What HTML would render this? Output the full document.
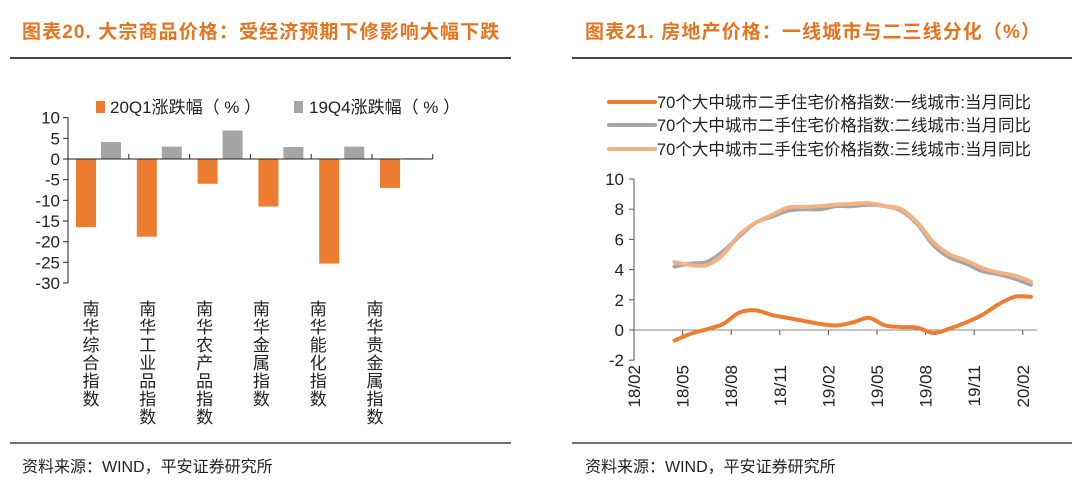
<!DOCTYPE html>
<html><head><meta charset="utf-8"><style>
body{margin:0;background:#fff;}
svg text{font-family:"Liberation Sans","Noto Sans CJK SC",sans-serif;}
</style></head><body>
<svg id="root" width="1080" height="493" viewBox="0 0 1080 493" xmlns="http://www.w3.org/2000/svg">
<text x="22" y="38" font-size="19" font-weight="bold" fill="#E8731E" letter-spacing="1.1">图表20.  大宗商品价格：受经济预期下修影响大幅下跌</text>
<text x="585" y="38" font-size="19" font-weight="bold" fill="#E8731E" letter-spacing="1.1">图表21.  房地产价格：一线城市与二三线分化（%）</text>
<line x1="10" y1="58" x2="511" y2="58" stroke="#444" stroke-width="2"/>
<line x1="572" y1="58" x2="1072" y2="58" stroke="#444" stroke-width="2"/>
<line x1="10" y1="443" x2="511" y2="443" stroke="#444" stroke-width="1.5"/>
<line x1="572" y1="443" x2="1072" y2="443" stroke="#444" stroke-width="1.5"/>
<text x="22" y="472" font-size="16" fill="#222">资料来源：WIND，平安证券研究所</text>
<text x="585" y="472" font-size="16" fill="#222">资料来源：WIND，平安证券研究所</text>

<rect x="96" y="101" width="9" height="12" fill="#ED7D31"/>
<text x="110" y="113" font-size="17" fill="#222" xml:space="preserve">20Q1涨跌幅（ % ）</text>
<rect x="294" y="101" width="9" height="12" fill="#A5A5A5"/>
<text x="309" y="113" font-size="17" fill="#222" xml:space="preserve">19Q4涨跌幅（ % ）</text>
<g id="left"></g>

<line x1="609" y1="102" x2="655" y2="102" stroke="#ED7D31" stroke-width="4" stroke-linecap="round"/>
<text x="657" y="108" font-size="16.5" fill="#222">70个大中城市二手住宅价格指数:一线城市:当月同比</text>
<line x1="609" y1="125" x2="655" y2="125" stroke="#A5A5A5" stroke-width="4" stroke-linecap="round"/>
<text x="657" y="131" font-size="16.5" fill="#222">70个大中城市二手住宅价格指数:二线城市:当月同比</text>
<line x1="609" y1="149" x2="655" y2="149" stroke="#F4B183" stroke-width="4" stroke-linecap="round"/>
<text x="657" y="155" font-size="16.5" fill="#222">70个大中城市二手住宅价格指数:三线城市:当月同比</text>
<g id="right"></g>
</svg>
<script>
const categories=["南华综合指数","南华工业品指数","南华农产品指数","南华金属指数","南华能化指数","南华贵金属指数"];
const q1Values=[-16.5,-18.8,-6,-11.5,-25.3,-7];
const q4Values=[4.1,3,6.9,2.9,3,0.2];
const leftTicks=[10,5,0,-5,-10,-15,-20,-25,-30];

const months=["18/04","18/05","18/06","18/07","18/08","18/09","18/10","18/11","18/12","19/01","19/02","19/03","19/04","19/05","19/06","19/07","19/08","19/09","19/10","19/11","19/12","20/01","20/02"];
const tier1=[-0.7,-0.25,0.05,0.4,1.15,1.3,1.0,0.8,0.6,0.4,0.3,0.5,0.8,0.3,0.2,0.15,-0.2,0.1,0.5,1.0,1.7,2.2,2.2];
const tier2=[4.2,4.4,4.5,5.2,6.2,7.1,7.5,7.9,8.0,8.0,8.2,8.2,8.3,8.2,7.9,7.0,5.6,4.8,4.4,3.9,3.7,3.4,3.0];
const tier3=[4.5,4.3,4.3,5.0,6.3,7.1,7.6,8.1,8.15,8.2,8.3,8.35,8.4,8.2,8.0,7.1,5.8,5.0,4.6,4.1,3.8,3.6,3.2];
const rightTicks=[10,8,6,4,2,0,-2];
const xTickLabels=["18/02","18/05","18/08","18/11","19/02","19/05","19/08","19/11","20/02"];

const NS="http://www.w3.org/2000/svg";
function mk(parent,tag,attrs){const e=document.createElementNS(NS,tag);for(const k in attrs)e.setAttribute(k,attrs[k]);parent.appendChild(e);return e;}

// Left chart
const L=document.getElementById('left');
const lx0=68,catW=60.8;
const ly=v=>159-v*4.133;
mk(L,'line',{x1:lx0,y1:ly(10),x2:lx0,y2:ly(-30),stroke:'#222','stroke-width':1});
leftTicks.forEach(t=>{
  const tk=mk(L,'line',{x1:lx0-5,y1:ly(t),x2:lx0,y2:ly(t),stroke:'#222'});
  
  
  const tx=mk(L,'text',{x:lx0-8,y:ly(t)+6,'font-size':17,'text-anchor':'end',fill:'#222'});
  tx.textContent=t;
  
  
});
categories.forEach((c,i)=>{
  const x=lx0+i*catW;
  const b1=mk(L,'rect',{x:x+8,y:Math.min(ly(0),ly(q1Values[i])),width:20,height:Math.abs(ly(q1Values[i])-ly(0)),fill:'#ED7D31'});
  
  
  const b2=mk(L,'rect',{x:x+33,y:Math.min(ly(0),ly(q4Values[i])),width:20,height:Math.abs(ly(q4Values[i])-ly(0)),fill:'#A5A5A5'});
  
  
  const cx=89+i*56.8;
  const lab=mk(L,'text',{x:cx,y:300,'font-size':17,fill:'#222',style:'writing-mode:vertical-rl;letter-spacing:1px'});
  lab.textContent=c;
  
  
});
for(let i=0;i<=categories.length;i++){
  const x=lx0+i*catW;
  mk(L,'line',{x1:x,y1:ly(0),x2:x,y2:ly(0)-5,stroke:'#222'});
}
const lz=mk(L,'line',{x1:lx0,y1:ly(0),x2:lx0+categories.length*catW,y2:ly(0),stroke:'#222'});



// Right chart
const R=document.getElementById('right');
const rx0=634,mW=16.2;
const rx=m=>rx0+(m+0.5)*mW;
const ry=v=>330-v*15.1;
mk(R,'line',{x1:rx0,y1:ry(10),x2:rx0,y2:ry(-2),stroke:'#555'});
rightTicks.forEach(t=>{
  mk(R,'line',{x1:rx0-5,y1:ry(t),x2:rx0,y2:ry(t),stroke:'#555'});
  const tx=mk(R,'text',{x:rx0-10,y:ry(t)+6,'font-size':17,'text-anchor':'end',fill:'#222'});
  tx.textContent=t;
  
  
});
const za=mk(R,'line',{x1:rx0,y1:ry(0),x2:rx(24)+6,y2:ry(0),stroke:'#888'});


xTickLabels.forEach((l,i)=>{
  const x=rx0+i*3*mW;
  mk(R,'line',{x1:x,y1:ry(0),x2:x,y2:ry(0)+5,stroke:'#555'});
  const tx=mk(R,'text',{x:0,y:0,'font-size':17,'text-anchor':'end',fill:'#222',transform:`translate(${x+6},365) rotate(-90)`});
  tx.textContent=l;
  
  
});
function smooth(pts){
  let d=`M${pts[0][0]},${pts[0][1]}`;
  for(let i=0;i<pts.length-1;i++){
    const p0=pts[Math.max(0,i-1)],p1=pts[i],p2=pts[i+1],p3=pts[Math.min(pts.length-1,i+2)];
    const c1=[p1[0]+(p2[0]-p0[0])/6,p1[1]+(p2[1]-p0[1])/6];
    const c2=[p2[0]-(p3[0]-p1[0])/6,p2[1]-(p3[1]-p1[1])/6];
    d+=` C${c1[0]},${c1[1]} ${c2[0]},${c2[1]} ${p2[0]},${p2[1]}`;
  }
  return d;
}
[[tier2,'#A5A5A5','line-tier2'],[tier3,'#F4B183','line-tier3'],[tier1,'#ED7D31','line-tier1']].forEach(([s,col,name])=>{
  const pts=s.map((v,i)=>[rx(i+2),ry(v)]);
  const p=mk(R,'path',{d:smooth(pts),fill:'none',stroke:col,'stroke-width':4,'stroke-linecap':'round','stroke-linejoin':'round'});
  
  
});
</script>
</body></html>
